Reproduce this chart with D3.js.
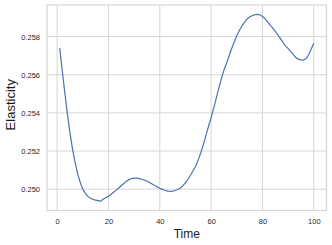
<!DOCTYPE html>
<html>
<head>
<meta charset="utf-8">
<script src="https://cdn.jsdelivr.net/npm/d3@7"></script>
<style>
	body { margin: 0; background: #fff; }
	svg { display: block; font-family: "Liberation Sans", Arial, sans-serif; }
</style>
</head>
<body>
<svg id="chart" width="332" height="245"></svg>
<script>
// time steps 1..100
const time = d3.range(1, 101);
const elasticity = [
	0.25740, 0.25620, 0.25505, 0.25395, 0.25295, 0.25210, 0.25140, 0.25080, 0.25035, 0.25000,
	0.24978, 0.24962, 0.24952, 0.24946, 0.24942, 0.24940, 0.24937, 0.24948, 0.24955, 0.24962,
	0.24973, 0.24984, 0.24995, 0.25006, 0.25018, 0.25030, 0.25042, 0.25050, 0.25056, 0.25058,
	0.25058, 0.25055, 0.25052, 0.25047, 0.25043, 0.25035, 0.25027, 0.25019, 0.25012, 0.25005,
	0.24999, 0.24994, 0.24990, 0.24988, 0.24990, 0.24993, 0.24998, 0.25006, 0.25018, 0.25034,
	0.25052, 0.25074, 0.25098, 0.25120, 0.25155, 0.25192, 0.25235, 0.25282, 0.25330, 0.25375,
	0.25425, 0.25478, 0.25530, 0.25580, 0.25625, 0.25660, 0.25700, 0.25738, 0.25772, 0.25805,
	0.25832, 0.25856, 0.25875, 0.25892, 0.25903, 0.25910, 0.25915, 0.25917, 0.25915, 0.25906,
	0.25895, 0.25878, 0.25860, 0.25845, 0.25828, 0.25810, 0.25790, 0.25770, 0.25750, 0.25738,
	0.25722, 0.25706, 0.25690, 0.25682, 0.25678, 0.25677, 0.25685, 0.25705, 0.25735, 0.25766
];
const xTicks = [0, 20, 40, 60, 80, 100];
const yTicks = [0.250, 0.252, 0.254, 0.256, 0.258];

const svg = d3.select("#chart");
const plot = {left: 47, right: 326.5, top: 5, bottom: 210.5};

// matplotlib style 5% margins
const xExt = d3.extent(time), yExt = d3.extent(elasticity);
const xPad = (xExt[1] - xExt[0]) * 0.05, yPad = (yExt[1] - yExt[0]) * 0.05;

const x = d3.scaleLinear().domain([xExt[0] - xPad, xExt[1] + xPad]).range([plot.left, plot.right]);
const y = d3.scaleLinear().domain([yExt[0] - yPad, yExt[1] + yPad]).range([plot.bottom, plot.top]);

const grid = "#d6d6d6";

// grid
svg.append("g").selectAll("line").data(xTicks).join("line")
	.attr("x1", d => x(d)).attr("x2", d => x(d))
	.attr("y1", plot.top).attr("y2", plot.bottom)
	.attr("stroke", grid).attr("stroke-width", 1);
svg.append("g").selectAll("line").data(yTicks).join("line")
	.attr("x1", plot.left).attr("x2", plot.right)
	.attr("y1", d => y(d)).attr("y2", d => y(d))
	.attr("stroke", grid).attr("stroke-width", 1);

// frame
svg.append("rect")
	.attr("x", plot.left).attr("y", plot.top)
	.attr("width", plot.right - plot.left).attr("height", plot.bottom - plot.top)
	.attr("fill", "none").attr("stroke", grid).attr("stroke-width", 1.2);

// axes (labels only)
const xAxis = svg.append("g")
	.attr("transform", `translate(0,${plot.bottom})`)
	.call(d3.axisBottom(x).tickValues(xTicks).tickSize(0).tickPadding(8).tickFormat(d3.format("d")));
const yAxis = svg.append("g")
	.attr("transform", `translate(${plot.left},0)`)
	.call(d3.axisLeft(y).tickValues(yTicks).tickSize(0).tickPadding(7).tickFormat(d3.format(".3f")));
[xAxis, yAxis].forEach(a => {
	a.select(".domain").remove();
	a.selectAll("text")
		.attr("font-family", "'Liberation Sans', Arial, sans-serif")
		.attr("font-size", "7.5px")
		.attr("fill", "#262626");
});

// line
svg.append("path")
	.datum(time.map((t, i) => [t, elasticity[i]]))
	.attr("fill", "none")
	.attr("stroke", "#4c72b0")
	.attr("stroke-width", 1.2)
	.attr("stroke-linejoin", "round")
	.attr("d", d3.line().x(d => x(d[0])).y(d => y(d[1])));

// axis titles
svg.append("text")
	.attr("x", (plot.left + plot.right) / 2).attr("y", 237.5)
	.attr("text-anchor", "middle")
	.attr("font-size", "12px")
	.attr("fill", "#1a1a1a")
	.text("Time");
svg.append("text")
	.attr("transform", `translate(14.5,${(plot.top + plot.bottom) / 2 - 3}) rotate(-90)`)
	.attr("text-anchor", "middle")
	.attr("font-size", "13px")
	.attr("fill", "#1a1a1a")
	.text("Elasticity");
</script>
</body>
</html>
